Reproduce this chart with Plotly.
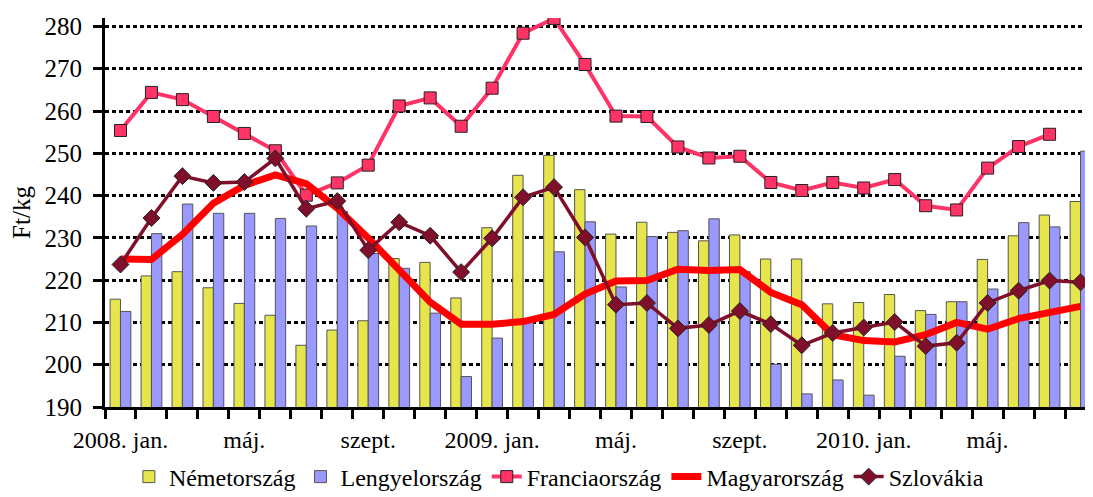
import plotly.graph_objects as go

months = [f"{y}-{m:02d}" for y in (2008, 2009, 2010) for m in range(1, 13)][:32]
tick_text = ["2008. jan.", "", "", "", "máj.", "", "", "", "szept.", "", "", "",
             "2009. jan.", "", "", "", "máj.", "", "", "", "szept.", "", "", "",
             "2010. jan.", "", "", "", "máj.", "", "", ""]

nemet = [215.5, 221.0, 222.0, 218.2, 214.5, 211.7, 204.6, 208.2, 210.4, 225.1,
         224.2, 215.8, 232.4, 244.8, 249.5, 241.4, 230.9, 233.7, 231.3, 229.3,
         230.7, 225.0, 225.0, 214.4, 214.7, 216.6, 212.8, 214.9, 224.9, 230.5,
         235.4, 238.6]
lengyel = [212.6, 231.0, 238.0, 235.8, 235.8, 234.6, 232.8, 236.2, 226.3, 222.8,
           212.2, 197.2, 206.3, 210.5, 226.7, 233.8, 218.4, 230.3, 231.7, 234.5,
           222.0, 200.1, 193.1, 196.4, 192.8, 202.0, 211.9, 214.9, 217.9, 233.6,
           232.6, 250.5]
francia = [255.4, 264.4, 262.7, 258.7, 254.7, 250.6, 240.1, 243.0, 247.2, 261.2,
           263.1, 256.4, 265.4, 278.4, 281.9, 271.0, 258.8, 258.7, 251.5, 248.9,
           249.3, 243.1, 241.2, 243.1, 241.8, 243.8, 237.6, 236.6, 246.5, 251.6,
           254.5, None]
magyar = [225.0, 224.9, 230.8, 238.2, 242.4, 244.9, 242.8, 237.0, 230.0, 222.1,
          214.8, 209.6, 209.6, 210.2, 211.9, 216.7, 219.8, 219.9, 222.6, 222.3,
          222.5, 217.1, 214.2, 207.1, 205.7, 205.4, 207.1, 210.0, 208.4, 210.9,
          212.5, 213.8]
szlovak = [223.7, 234.7, 244.6, 243.0, 243.2, 248.8, 236.9, 238.7, 227.1, 233.7,
           230.5, 221.9, 229.9, 239.6, 242.0, 230.1, 214.2, 214.6, 208.6, 209.4,
           212.7, 209.6, 204.6, 207.5, 208.8, 210.1, 204.4, 205.2, 214.6, 217.5,
           219.9, 219.5]

FONT = "Liberation Serif, Times New Roman, serif"

fig = go.Figure()
fig.add_trace(go.Bar(x=months, y=nemet, name="Németország",
                     marker=dict(color="#E6E64C", line=dict(color="#555555", width=1))))
fig.add_trace(go.Bar(x=months, y=lengyel, name="Lengyelország",
                     marker=dict(color="#9999FF", line=dict(color="#555555", width=1))))
fig.add_trace(go.Scatter(x=months, y=francia, name="Franciaország", mode="lines+markers",
                         line=dict(color="#FF3366", width=4),
                         marker=dict(symbol="square", size=12, color="#FF3366",
                                     line=dict(color="#222222", width=1))))
fig.add_trace(go.Scatter(x=months, y=magyar, name="Magyarország", mode="lines",
                         line=dict(color="#FF0000", width=7)))
fig.add_trace(go.Scatter(x=months, y=szlovak, name="Szlovákia", mode="lines+markers",
                         line=dict(color="#7F0F2A", width=3.5),
                         marker=dict(symbol="diamond", size=13, color="#7F0F2A",
                                     line=dict(color="#222222", width=1))))

fig.update_layout(
    width=1093, height=497,
    margin=dict(l=97, r=5, t=10, b=88),
    paper_bgcolor="white", plot_bgcolor="white",
    barmode="group", bargap=0.33, bargroupgap=0,
    font=dict(family=FONT, size=24, color="black"),
    showlegend=True,
    legend=dict(orientation="h", x=0.458, xanchor="center", y=-0.18, yanchor="middle",
                font=dict(family=FONT, size=24), itemwidth=30,
                bgcolor="rgba(0,0,0,0)"),
    xaxis=dict(type="category", tickmode="array", tickvals=months, ticktext=tick_text,
               tickson="boundaries", ticks="outside", ticklen=9, tickwidth=3,
               tickcolor="black", showline=True, linecolor="black", linewidth=3,
               showgrid=False, ticklabelstandoff=9, range=[-0.5, 31.5], tickangle=0,
               tickfont=dict(family=FONT, size=24)),
    yaxis=dict(range=[190, 282], tickvals=[190, 200, 210, 220, 230, 240, 250, 260, 270, 280],
               ticks="outside", ticklen=9, tickwidth=3, tickcolor="black",
               showline=True, linecolor="black", linewidth=3,
               showgrid=True, gridcolor="black", gridwidth=3, griddash="4px,3px",
               zeroline=False, ticklabelstandoff=6,
               title=dict(text="Ft/kg", font=dict(family=FONT, size=25), standoff=10),
               tickfont=dict(family=FONT, size=25)),
)

fig.write_html("out.html")
